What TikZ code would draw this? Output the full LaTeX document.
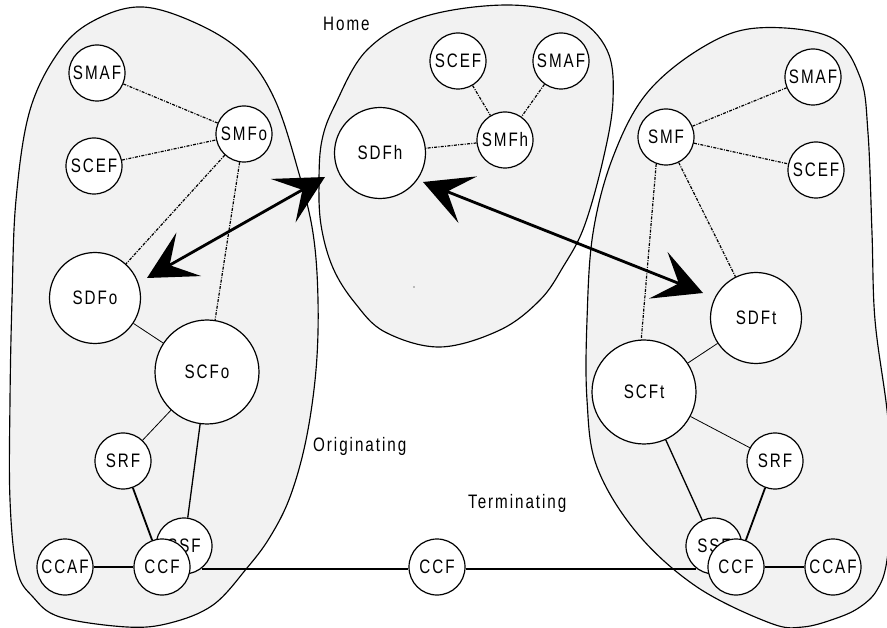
\documentclass[tikz,border=0pt]{standalone}
\usepackage{fontspec}
\setmainfont{Liberation Sans}[FakeStretch=0.78,LetterSpace=10]
\usetikzlibrary{arrows.meta}
\definecolor{regionfill}{RGB}{242,242,242}
\begin{document}
\begin{tikzpicture}[x=1pt,y=-1pt,
  font=\fontsize{19.5}{22}\selectfont,
  fn/.style={circle,draw,fill=white,line width=1.2pt,inner sep=0pt,minimum size=56pt},
  sdfnode/.style={fn,minimum size=91pt},
  scfnode/.style={fn,minimum size=104pt},
  region/.style={draw,fill=regionfill,line width=1.15pt},
  mgmt/.style={line width=1.2pt,dash pattern=on 3pt off 1.3pt on 1pt off 1.3pt},
  thinlink/.style={line width=0.8pt},
  midlink/.style={line width=1.3pt},
  thicklink/.style={line width=1.8pt},
  bearer/.style={line width=2pt},
  bigarrow/.style={line width=2.8pt,{Stealth[length=48pt,width=50pt,inset=22pt]}-{Stealth[length=48pt,width=50pt,inset=22pt]}},
  area/.style={inner sep=0pt}]
\useasboundingbox (0,0) rectangle (887,628);
\clip (0,0) rectangle (887,628);

% network regions
\draw[region] plot[smooth cycle,tension=0.6] coordinates {(143,7) (200,25) (245,55) (275,100) (298,170) (313,233) (318,300) (316,370) (306,440) (290,497) (270,537) (247,568) (213,605) (170,623) (127,627) (60,617) (33,597) (17,570) (10,500) (10,400) (12,300) (16,200) (30,110) (60,50) (95,20)};
\draw[region] plot[smooth cycle,tension=0.6] coordinates {(507,5) (573,17) (607,50) (613,100) (603,160) (584,227) (563,267) (540,300) (500,330) (440,347) (385,332) (355,303) (333,268) (321,225) (319,180) (322,140) (335,105) (367,50) (423,17)};
\draw[region] plot[smooth cycle,tension=0.6] coordinates {(757,28) (830,37) (860,77) (868,133) (872,233) (875,320) (887,410) (893,485) (887,560) (877,590) (860,607) (837,618) (803,627) (770,623) (697,587) (637,533) (597,467) (587,400) (587,320) (593,233) (613,157) (647,93) (703,47)};
\fill (414,287) circle[radius=0.7pt];

% region labels
\node[area,anchor=base west] (home) at (323,31) {Home};
\node[area,anchor=base west] (orig) at (313,452) {Originating};
\node[area,anchor=base west] (term) at (468,508) {Terminating};

% originating side
\node[fn] (smafO) at (97,73) {SMAF};
\node[fn] (smfo) at (244,134) {SMFo};
\node[fn] (scefO) at (94,166) {SCEF};
\node[sdfnode] (sdfo) at (95,298) {SDFo};
\node[scfnode] (scfo) at (207,372) {SCFo};
\node[fn] (srfO) at (123,461) {SRF};
\node[fn] (ssfO) at (184,546) {SSF};
\node[fn] (ccfO) at (162,567) {CCF};
\node[fn] (ccafO) at (65,567) {CCAF};

% transit
\node[fn] (ccfM) at (437,567) {CCF};

% home side
\node[fn] (scefH) at (458,61) {SCEF};
\node[fn] (smafH) at (561,61) {SMAF};
\node[fn] (smfh) at (505,140) {SMFh};
\node[sdfnode] (sdfh) at (380,153) {SDFh};

% terminating side
\node[fn] (smafT) at (813,77) {SMAF};
\node[fn] (smf) at (666,137) {SMF};
\node[fn] (scefT) at (816,170) {SCEF};
\node[sdfnode] (sdft) at (756,318) {SDFt};
\node[scfnode] (scft) at (644,392) {SCFt};
\node[fn] (srfT) at (775,461) {SRF};
\node[fn] (ssfT) at (714,546) {SSF};
\node[fn] (ccfT) at (736,567) {CCF};
\node[fn] (ccafT) at (833,567) {CCAF};

% management links
\draw[mgmt] (smafO) -- (smfo);
\draw[mgmt] (scefO) -- (smfo);
\draw[mgmt] (smfo) -- (sdfo);
\draw[mgmt] (smfo) -- (scfo);
\draw[mgmt] (scefH) -- (smfh);
\draw[mgmt] (smafH) -- (smfh);
\draw[mgmt] (smfh) -- (sdfh);
\draw[mgmt] (smf) -- (smafT);
\draw[mgmt] (smf) -- (scefT);
\draw[mgmt] (smf) -- (sdft);
\draw[mgmt] (smf.250) -- (scft.93);

% control and bearer links
\draw[thinlink] (sdfo) -- (scfo);
\draw[thinlink] (scfo) -- (srfO);
\draw[midlink] (scfo) -- (ssfO);
\draw[thicklink] (srfO) -- (ccfO);
\draw[thicklink] (ccafO) -- (ccfO);
\draw[bearer] (ssfO.-52) -- (ssfO.-52 -| ccfM.west);
\draw[thinlink] (sdft) -- (scft);
\draw[thinlink] (scft) -- (srfT);
\draw[midlink] (scft) -- (ssfT);
\draw[thicklink] (srfT) -- (ccfT);
\draw[thicklink] (ccfT) -- (ccafT);
\draw[bearer] (ccfM.east |- ssfT.232) -- (ssfT.232);

% data-function interworking
\coordinate (a1) at (147,278);
\coordinate (a2) at (325,177);
\coordinate (b1) at (423,182);
\coordinate (b2) at (703,293);
\draw[bigarrow] (a1) -- (a2);
\draw[bigarrow] (b1) -- (b2);
\end{tikzpicture}
\end{document}
